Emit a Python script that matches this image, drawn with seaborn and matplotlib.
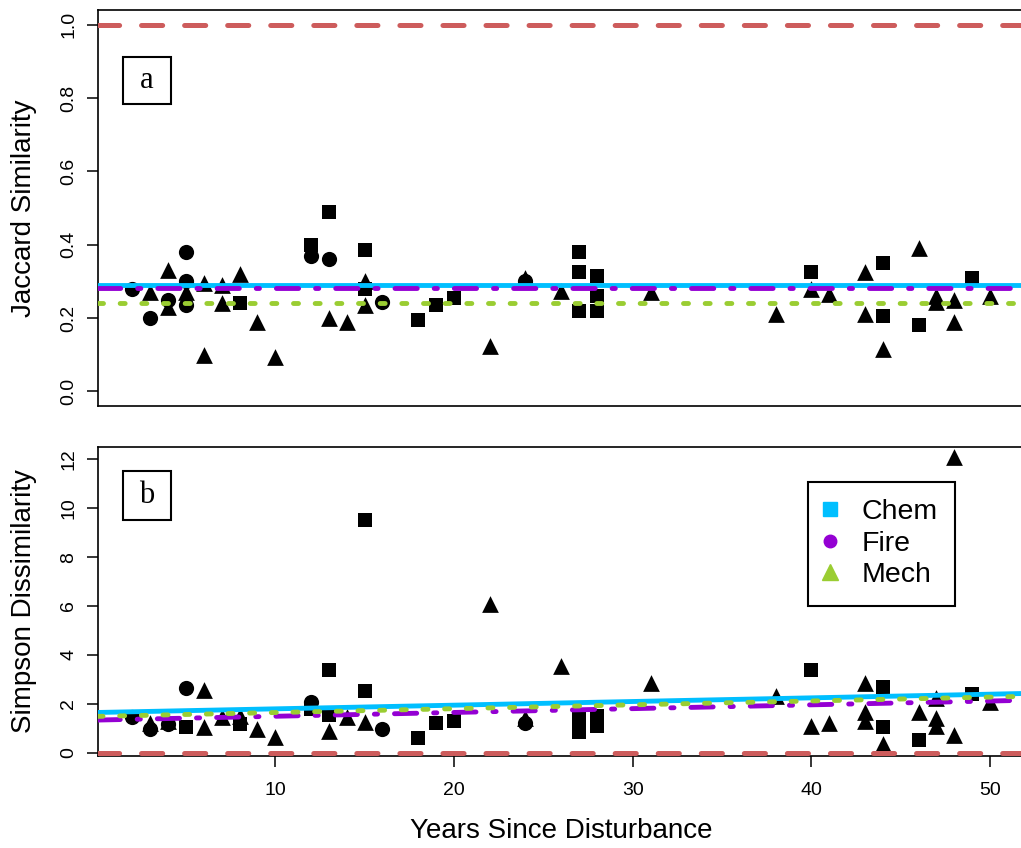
import matplotlib
matplotlib.use('Agg')
import pandas as pd
import seaborn as sns
import matplotlib.pyplot as plt
from matplotlib.lines import Line2D
from matplotlib.patches import Rectangle

# ---- data ----
treatments = ['Chem', 'Fire', 'Mech']

# panel a: Jaccard similarity
jac_chem_years = [8, 12, 13, 15, 15, 18, 19, 20, 27, 27, 27, 28, 28, 28, 40, 44, 44, 46, 49]
jac_chem_vals = [0.24, 0.40, 0.49, 0.385, 0.28, 0.195, 0.235, 0.255, 0.38, 0.325, 0.22,
                 0.315, 0.26, 0.22, 0.325, 0.35, 0.205, 0.18, 0.31]
jac_fire_years = [2, 3, 4, 5, 5, 5, 12, 13, 16, 24]
jac_fire_vals = [0.28, 0.20, 0.25, 0.38, 0.30, 0.235, 0.37, 0.36, 0.245, 0.30]
jac_mech_years = [3, 4, 4, 5, 6, 6, 7, 7, 8, 9, 10, 13, 14, 15, 15, 22, 24, 26, 31, 38,
                  40, 41, 43, 43, 44, 46, 47, 47, 48, 48, 50]
jac_mech_vals = [0.27, 0.33, 0.23, 0.27, 0.295, 0.10, 0.29, 0.24, 0.32, 0.19, 0.095, 0.20,
                 0.19, 0.30, 0.235, 0.125, 0.31, 0.275, 0.27, 0.21, 0.28, 0.265, 0.325,
                 0.21, 0.115, 0.39, 0.26, 0.245, 0.25, 0.19, 0.26]

# panel b: Simpson dissimilarity
sim_chem_years = [5, 8, 12, 13, 13, 15, 15, 18, 19, 20, 27, 27, 27, 28, 28, 40, 44, 44, 46, 49]
sim_chem_vals = [1.05, 1.15, 1.8, 3.4, 1.55, 9.5, 2.5, 0.6, 1.2, 1.3, 1.45, 1.1, 0.85,
                 1.5, 1.1, 3.4, 2.7, 1.05, 0.5, 2.4]
sim_fire_years = [2, 3, 4, 5, 12, 16, 24]
sim_fire_vals = [1.45, 0.95, 1.15, 2.65, 2.07, 0.98, 1.2]
sim_mech_years = [3, 4, 6, 6, 7, 8, 9, 10, 13, 14, 15, 22, 24, 26, 31, 38, 40, 41, 43, 43,
                  43, 44, 46, 47, 47, 47, 48, 48, 50]
sim_mech_vals = [1.2, 1.3, 2.58, 1.05, 1.45, 1.5, 0.95, 0.65, 0.9, 1.45, 1.25, 6.1, 1.4,
                 3.55, 2.85, 2.3, 1.1, 1.2, 2.85, 1.65, 1.3, 0.37, 1.65, 2.25, 1.4, 1.1,
                 12.1, 0.72, 2.05]

# fitted lines (intercept, slope) per treatment
jac_intercepts = [0.291, 0.281, 0.241]
jac_slopes = [0.0, 0.0, 0.0]
sim_intercepts = [1.64, 1.33, 1.48]
sim_slopes = [0.015, 0.0156, 0.0158]

jac_ref = 1.0
sim_ref = 0.0
x_ticks = [10, 20, 30, 40, 50]

# ---- styling ----
sns.set_theme(style='ticks')
plt.rcParams['font.family'] = ['Liberation Sans', 'DejaVu Sans']
plt.rcParams['lines.scale_dashes'] = False
plt.rcParams['axes.edgecolor'] = 'black'
plt.rcParams['axes.linewidth'] = 1.2
plt.rcParams['text.color'] = 'black'
plt.rcParams['axes.labelcolor'] = 'black'

markers = {'Chem': 's', 'Fire': 'o', 'Mech': '^'}
msizes = {'Chem': 115, 'Fire': 120, 'Mech': 145}
line_cols = {'Chem': '#00BFFF', 'Fire': '#9400D3', 'Mech': '#9ACD32'}
line_styles = {'Chem': '-', 'Fire': (0, (16, 12.2, 2.3, 12.2)), 'Mech': (0, (3.6, 12))}
ref_col = '#CD5C5C'


def make_df(years, vals):
    parts = [pd.DataFrame({'year': y, 'value': v, 'treatment': t})
             for t, y, v in zip(treatments, years, vals)]
    return pd.concat(parts, ignore_index=True)


df_jac = make_df([jac_chem_years, jac_fire_years, jac_mech_years],
                 [jac_chem_vals, jac_fire_vals, jac_mech_vals])
df_sim = make_df([sim_chem_years, sim_fire_years, sim_mech_years],
                 [sim_chem_vals, sim_fire_vals, sim_mech_vals])

fig = plt.figure(figsize=(10.21, 8.48), dpi=100)
ax_a = fig.add_axes([0.096, 0.5212, 0.9073, 0.467])
ax_b = fig.add_axes([0.096, 0.1088, 0.9073, 0.3644])


def draw_panel(ax, df, intercepts, slopes, ref):
    for t in treatments:
        sub = df[df['treatment'] == t]
        sns.scatterplot(data=sub, x='year', y='value', marker=markers[t], color='black',
                        s=msizes[t], linewidth=0, legend=False, ax=ax, zorder=2)
    ax.axhline(ref, color=ref_col, lw=3.6, linestyle=(0, (15.2, 15.8)),
               dash_capstyle='round', zorder=3)
    for t, a, b in zip(treatments, intercepts, slopes):
        ax.axline((0, a), slope=b, color=line_cols[t], lw=3.5,
                  linestyle=line_styles[t], dash_capstyle='round', zorder=3)
    ax.set_xlim(0.08, 51.92)
    ax.set_xlabel('')
    ax.tick_params(axis='both', direction='out', length=8, width=1.1,
                   labelsize=14, colors='black')
    ax.tick_params(axis='y', labelrotation=90, pad=7)


draw_panel(ax_a, df_jac, jac_intercepts, jac_slopes, jac_ref)
ax_a.set_ylim(-0.04, 1.04)
ax_a.set_yticks([0.0, 0.2, 0.4, 0.6, 0.8, 1.0])
ax_a.set_yticklabels(['0.0', '0.2', '0.4', '0.6', '0.8', '1.0'], va='center')
ax_a.set_xticks([])
ax_a.set_ylabel('Jaccard Similarity', fontsize=20, va='center')
ax_a.yaxis.set_label_coords(-0.08, 0.5)

draw_panel(ax_b, df_sim, sim_intercepts, sim_slopes, sim_ref)
ax_b.set_ylim(-0.13, 12.52)
ax_b.set_yticks([0, 2, 4, 6, 8, 10, 12])
ax_b.set_yticklabels(['0', '2', '4', '6', '8', '10', '12'], va='center')
ax_b.set_xticks(x_ticks)
ax_b.tick_params(axis='x', pad=11)
ax_b.set_ylabel('Simpson Dissimilarity', fontsize=20, va='center')
ax_b.yaxis.set_label_coords(-0.08, 0.5)
ax_b.set_xlabel('Years Since Disturbance', fontsize=20)
ax_b.xaxis.set_label_coords(0.5, -0.2)

# panel letters in boxes
for ax, letter, y0, h in [(ax_a, 'a', 0.762, 0.120), (ax_b, 'b', 0.763, 0.158)]:
    ax.add_patch(Rectangle((0.0267, y0), 0.0521, h, transform=ax.transAxes,
                           fill=False, ec='black', lw=1.5, zorder=5))
    ax.text(0.0527, y0 + h / 2, letter, transform=ax.transAxes, ha='center', va='center',
            fontsize=22, family=['Liberation Serif', 'DejaVu Serif'], zorder=6)

# legend (markers only)
handles = [Line2D([], [], marker='s', color=line_cols['Chem'], linestyle='none', markersize=9.5),
           Line2D([], [], marker='o', color=line_cols['Fire'], linestyle='none', markersize=9),
           Line2D([], [], marker='^', color=line_cols['Mech'], linestyle='none', markersize=11)]
leg = ax_b.legend(handles, treatments, loc='upper right', bbox_to_anchor=(0.925, 0.886),
                  borderaxespad=0, fontsize=20.5, frameon=True, fancybox=False,
                  framealpha=1, edgecolor='black', handlelength=0.4, handletextpad=0.9,
                  borderpad=0.6, labelspacing=0.2)
leg.get_frame().set_linewidth(1.5)
for txt in leg.get_texts():
    txt.set_color('black')

fig.savefig('out.png', dpi=100)
